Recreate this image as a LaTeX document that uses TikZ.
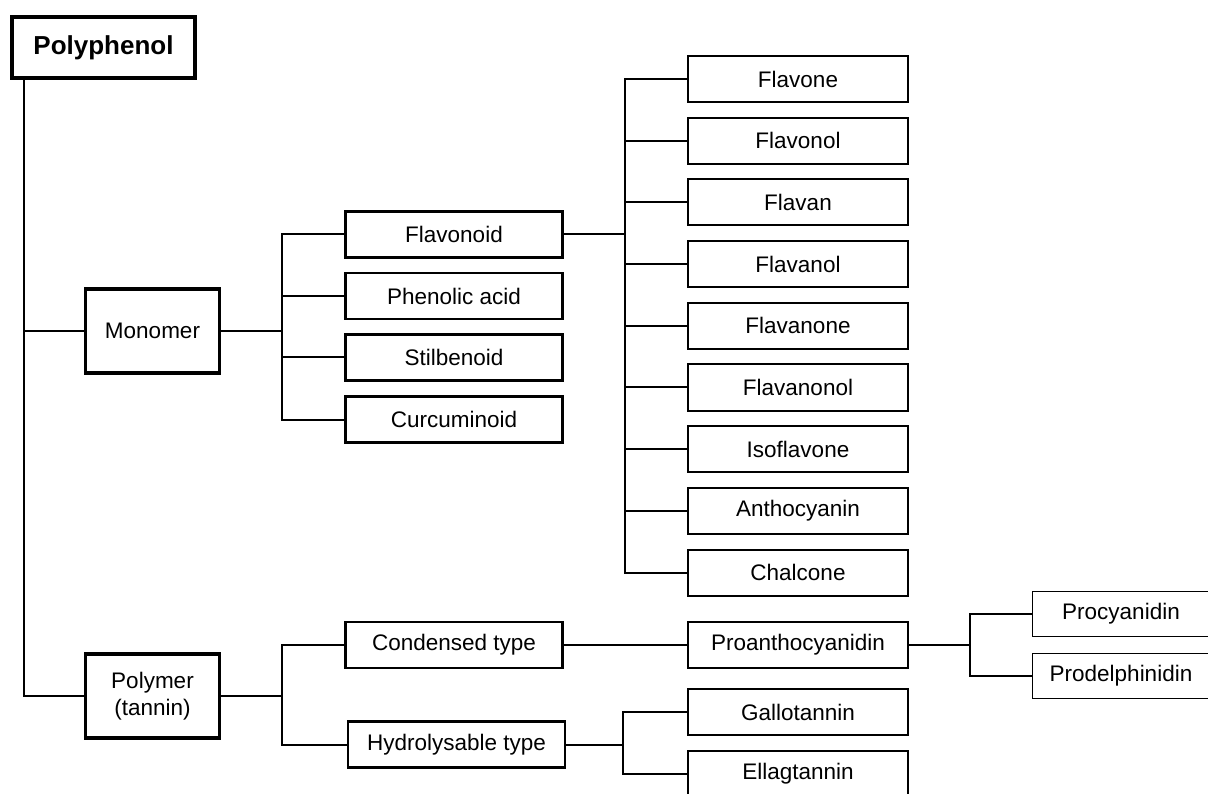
\documentclass[tikz,border=0pt]{standalone}
\usepackage{fontspec}
\setmainfont{Liberation Sans}
\usetikzlibrary{positioning}

\begin{document}
\begin{tikzpicture}[x=1pt,y=-1pt,
   box/.style={draw,rectangle,inner sep=0pt,align=center,font=\fontsize{22.5}{27}\selectfont},
   top/.style={box,line width=4.6pt,minimum width=183pt,minimum height=61pt,font=\fontsize{26}{31}\selectfont\bfseries},
   grp/.style={box,line width=3.4pt,minimum width=134pt,minimum height=84pt},
   sub/.style={box,line width=2.8pt,minimum width=217pt,minimum height=46pt},
   leaf/.style={box,line width=2pt,minimum width=220pt,minimum height=46pt},
   tip/.style={box,line width=1.2pt,minimum width=177pt,minimum height=45pt},
   ln/.style={line width=2pt}]
\useasboundingbox (0,0) rectangle (1208,794);

%% ---- root and first level ----
\node[top] (poly) at (103.5,47.5) {Polyphenol};
\node[grp] (mono) at (152.5,331) {Monomer};
\node[grp] (polym) at (152.5,696) {Polymer\\(tannin)};
\coordinate (trunk) at (24,80);
\draw[ln] (trunk) |- (mono.west);
\draw[ln] (trunk) |- (polym.west);

%% ---- monomer classes ----
\foreach \nm/\txt/\y in {flavonoid/Flavonoid/234.5, phenolic/Phenolic acid/296,
    stilbenoid/Stilbenoid/357.5, curcuminoid/Curcuminoid/419.5}
  \node[sub] (\nm) at (454,\y) {\txt};
\draw[ln] (mono.east) -- ++(61,0) coordinate (mb);
\foreach \nm in {flavonoid,phenolic,stilbenoid,curcuminoid}
  \draw[ln] (mb) |- (\nm.west);

%% ---- flavonoid subclasses ----
\foreach \nm/\txt [count=\i from 0] in {flavone/Flavone, flavonol/Flavonol,
    flavan/Flavan, flavanol/Flavanol, flavanone/Flavanone, flavanonol/Flavanonol,
    isoflavone/Isoflavone, anthocyanin/Anthocyanin, chalcone/Chalcone}
  \node[leaf] (\nm) at (798,79+61.7*\i) {\txt};
\draw[ln] (flavonoid.east) -- ++(61,0) coordinate (fb);
\foreach \nm in {flavone,flavonol,flavan,flavanol,flavanone,flavanonol,isoflavone,anthocyanin,chalcone}
  \draw[ln] (fb) |- (\nm.west);

%% ---- polymer (tannin) ----
\node[sub] (cond) at (454,645) {Condensed type};
\node[sub] (hydro) at (456.5,744.5) {Hydrolysable type};
\draw[ln] (polym.east) -- ++(61,0) coordinate (pb);
\draw[ln] (pb) |- (cond.west);
\draw[ln] (pb) |- (hydro.west);

\node[leaf] (proa) at (798,645) {Proanthocyanidin};
\draw[ln] (cond) -- (proa);
\node[tip] (procy) at (1121,614) {Procyanidin};
\node[tip] (prodel) at (1121,676) {Prodelphinidin};
\draw[ln] (proa.east) -- ++(61,0) coordinate (ab);
\draw[ln] (ab) |- (procy.west);
\draw[ln] (ab) |- (prodel.west);

\node[leaf] (gallo) at (798,712) {Gallotannin};
\node[leaf] (ellag) at (798,774) {Ellagtannin};
\draw[ln] (hydro.east) -- ++(57,0) coordinate (hb);
\draw[ln] (hb) |- (gallo.west);
\draw[ln] (hb) |- (ellag.west);
\end{tikzpicture}
\end{document}
